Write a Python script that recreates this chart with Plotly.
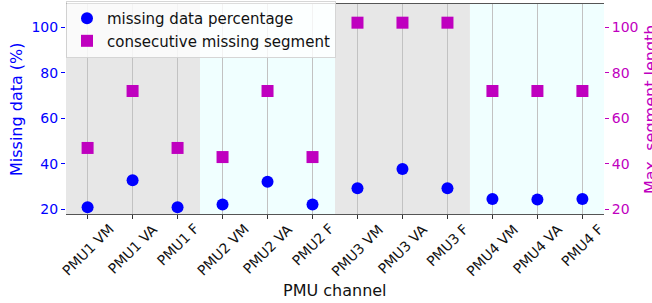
import plotly.graph_objects as go

channels = ["PMU1 VM", "PMU1 VA", "PMU1 F", "PMU2 VM", "PMU2 VA", "PMU2 F",
            "PMU3 VM", "PMU3 VA", "PMU3 F", "PMU4 VM", "PMU4 VA", "PMU4 F"]
missing_pct = [21, 32.8, 21, 22.2, 32.2, 22.2, 29.3, 37.8, 29.3, 24.6, 24.4, 24.6]
max_segment = [47, 72, 47, 43, 72, 43, 102, 102, 102, 72, 72, 72]
groups = ["PMU1", "PMU2", "PMU3", "PMU4"]
group_colors = ["#e7e7e7", "#f0ffff", "#e7e7e7", "#f0ffff"]
yticks = [20, 40, 60, 80, 100]

xs = list(range(len(channels)))
font = "DejaVu Sans, Liberation Sans, sans-serif"
BLUE = "#0000ff"
MAG = "#bf00bf"

fig = go.Figure()
fig.add_trace(go.Scatter(x=xs, y=missing_pct, mode="markers", name="missing data percentage",
                         marker=dict(symbol="circle", size=12, color=BLUE), yaxis="y"))
fig.add_trace(go.Scatter(x=xs, y=max_segment, mode="markers", name="consecutive missing segment",
                         marker=dict(symbol="square", size=12, color=MAG), yaxis="y2"))

for i, c in enumerate(group_colors):
    fig.add_shape(type="rect", xref="x", yref="paper", x0=3 * i - 0.5, x1=3 * i + 2.5,
                  y0=0, y1=1, fillcolor=c, line_width=0, layer="below")

annotations = []
for i, lab in enumerate(channels):
    annotations.append(dict(x=i, y=0, xref="x", yref="paper", text=lab, showarrow=False,
                            textangle=-45, xanchor="center", yanchor="top", yshift=-4,
                            font=dict(size=14, color="#111", family=font)))
annotations.append(dict(x=0.5, y=0, xref="paper", yref="paper", text="PMU channel", showarrow=False,
                        xanchor="center", yanchor="middle", yshift=-76,
                        font=dict(size=16, color="#111", family=font)))
annotations.append(dict(x=(16 - 66) / 538, y=0.5, xref="paper", yref="paper", text="Missing data (%)",
                        showarrow=False, textangle=-90, xanchor="center", yanchor="middle",
                        font=dict(size=16, color=BLUE, family=font)))
annotations.append(dict(x=(650 - 66) / 538, y=0.5, xref="paper", yref="paper", text="Max. segment length",
                        showarrow=False, textangle=-90, xanchor="center", yanchor="middle",
                        font=dict(size=16, color=MAG, family=font)))

fig.update_layout(
    width=652, height=303,
    margin=dict(l=66, r=48, t=4, b=89, autoexpand=False),
    paper_bgcolor="white", plot_bgcolor="white",
    font=dict(family=font, size=13, color="#111"),
    showlegend=True,
    annotations=annotations,
    legend=dict(x=0.0, y=1.014, xanchor="left", yanchor="top",
                bgcolor="rgba(255,255,255,0.8)", bordercolor="rgba(204,204,204,0.8)", borderwidth=1,
                font=dict(size=15, color="#111"), itemsizing="constant"),
    xaxis=dict(range=[-0.48, 11.48], tickmode="array", tickvals=xs, showticklabels=False,
               showgrid=True, gridcolor="#c2c2c2", gridwidth=1,
               ticks="outside", ticklen=4, tickcolor="#333", automargin=False,
               showline=True, linecolor="#555", linewidth=1.3, mirror=True,
               zeroline=False),
    yaxis=dict(range=[18, 110.2], tickvals=yticks, showgrid=False, automargin=False,
               zeroline=False, ticks="outside", ticklen=4, tickcolor=BLUE,
               tickfont=dict(size=14, color=BLUE)),
    yaxis2=dict(range=[18, 110.2], tickvals=yticks, overlaying="y", side="right",
                showgrid=False, zeroline=False, ticks="outside", ticklen=4, tickcolor=MAG,
                automargin=False, tickfont=dict(size=14, color=MAG)),
)

fig.write_html("out.html", config={"displayModeBar": False},
               post_script="document.body.style.margin='0';document.body.style.overflow='hidden';")
